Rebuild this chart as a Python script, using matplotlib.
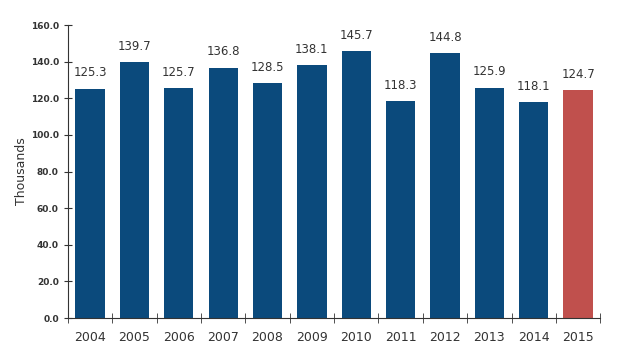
import matplotlib.pyplot as plt
import numpy as np

years = ['2004', '2005', '2006', '2007', '2008', '2009', '2010',
         '2011', '2012', '2013', '2014', '2015']
values = [125.3, 139.7, 125.7, 136.8, 128.5, 138.1, 145.7,
          118.3, 144.8, 125.9, 118.1, 124.7]

blue = '#0B4A7C'
red = '#C0504D'
colors = [blue] * (len(years) - 1) + [red]

fig = plt.figure(figsize=(6.4, 3.53), dpi=100)
ax = fig.add_axes([0.106, 0.099, 0.832, 0.83])

x = np.arange(len(years))
ax.bar(x, values, width=0.66, color=colors, zorder=2)

for xi, v in zip(x, values):
    ax.text(xi, v + 5, f'{v:.1f}', ha='center', va='bottom',
            fontsize=8.5, color='#333333')

ax.set_xlim(-0.5, len(years) - 0.5)
ax.set_ylim(0, 160)
ax.set_yticks(np.arange(0, 161, 20))
ax.set_yticklabels([f'{t:.1f}' for t in range(0, 161, 20)],
                   fontsize=6.5, fontweight='bold', color='#333333')
ax.set_xticks(x)
ax.set_xticklabels(years, fontsize=9, color='#333333')
ax.set_xticks(np.arange(-0.5, len(years), 1), minor=True)
ax.tick_params(axis='x', which='major', length=0, pad=9)
ax.tick_params(axis='x', which='minor', direction='inout', length=7, color='#333333')
ax.tick_params(axis='y', direction='inout', length=6, color='#333333')
ax.set_ylabel('Thousands', fontsize=9, color='#333333')
ax.yaxis.set_label_coords(-0.075, 0.5)

for s in ['top', 'right']:
    ax.spines[s].set_visible(False)
ax.spines['left'].set_color('#333333')
ax.spines['bottom'].set_color('#333333')

fig.savefig('out.png', dpi=100)
